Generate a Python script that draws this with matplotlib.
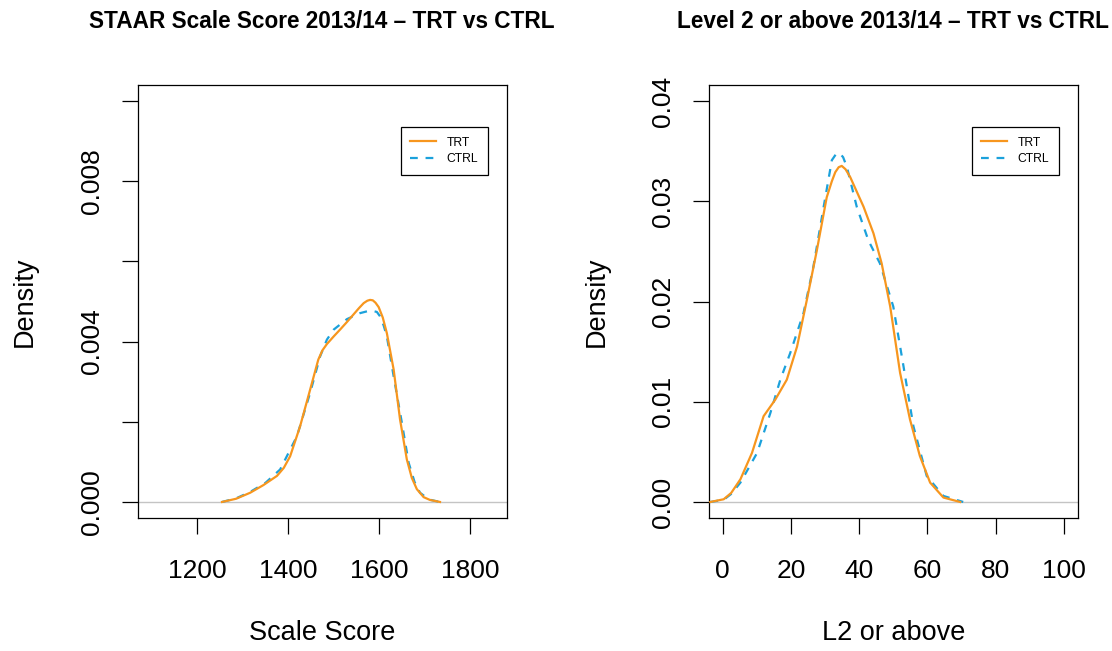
import matplotlib
matplotlib.use("Agg")
import matplotlib.pyplot as plt

plt.rcParams['font.family'] = ['Liberation Sans', 'DejaVu Sans']

TRT_COLOR = "#F7961E"
CTRL_COLOR = "#1BA1DB"

# left panel: STAAR scale score densities
score_trt_x = [1254, 1285, 1316, 1345, 1375, 1390, 1404, 1426, 1448, 1466, 1475,
               1485, 1500, 1514, 1530, 1543, 1556, 1566, 1574, 1580, 1586, 1592,
               1599, 1608, 1617, 1632, 1646, 1661, 1672, 1683, 1698, 1712, 1734]
score_trt_y = [0.0, 0.00008, 0.00023, 0.00042, 0.00065, 0.00085, 0.00114,
               0.00189, 0.0028, 0.00355, 0.00378, 0.00394, 0.00413, 0.0043,
               0.00450, 0.00467, 0.00484, 0.00496, 0.00502, 0.00504, 0.00503,
               0.00497, 0.00486, 0.00460, 0.00421, 0.0033, 0.00206, 0.00106,
               0.00060, 0.00032, 0.00012, 0.00005, 0.0]
score_ctrl_x = [1254, 1285, 1316, 1350, 1382, 1419, 1448, 1470, 1485, 1500, 1529,
                1558, 1575, 1584, 1595, 1602, 1610, 1617, 1632, 1650, 1665, 1678,
                1690, 1710, 1734]
score_ctrl_y = [0.0, 0.00009, 0.00025, 0.00048, 0.00081, 0.00164, 0.00272,
                0.00363, 0.00405, 0.0043, 0.00456, 0.00471, 0.00476, 0.00477,
                0.00474, 0.00463, 0.00440, 0.00413, 0.00313, 0.00198, 0.00098,
                0.00050, 0.00023, 0.00006, 0.0]

# right panel: percent at level 2 or above
l2_trt_x = [-3.6, 0.3, 2.5, 5.2, 8.6, 12.0, 15.4, 18.8, 21.8, 24.7, 27.6, 30.5,
            32.0, 33.0, 34.0, 34.9, 36.0, 37.4, 41.3, 44.2, 46.6, 49.1, 52.0,
            54.9, 57.8, 60.8, 64.7, 69.6]
l2_trt_y = [0.0, 0.00027, 0.0009, 0.00226, 0.0049, 0.00856, 0.0102, 0.0122,
            0.0155, 0.0202, 0.0251, 0.0304, 0.0320, 0.0329, 0.0334, 0.03353,
            0.0332, 0.0324, 0.02945, 0.0268, 0.0238, 0.0195, 0.01288, 0.00823,
            0.00458, 0.00193, 0.00044, 0.0]
l2_ctrl_x = [-3.6, 0.3, 2.5, 5.2, 10.1, 14.0, 16.9, 19.8, 23.7, 26.6, 29.6, 32.0,
             33.2, 34.2, 35.3, 36.4, 39.3, 42.7, 46.1, 50.0, 53.0, 55.9, 59.8,
             64.7, 70.5]
l2_ctrl_y = [0.0, 0.00022, 0.0008, 0.00193, 0.0049, 0.0089, 0.0122, 0.01486,
             0.01885, 0.0235, 0.02945, 0.0341, 0.0347, 0.03483, 0.0344, 0.03343,
             0.02945, 0.0261, 0.0238, 0.0195, 0.01353, 0.00756, 0.00259, 0.0006,
             0.0]

titles = ["STAAR Scale Score 2013/14 \u2013 TRT vs CTRL",
          "Level 2 or above 2013/14 \u2013 TRT vs CTRL"]
xlabels = ["Scale Score", "L2 or above"]
series_names = ["TRT", "CTRL"]

left_xticks = [1200, 1400, 1600, 1800]
left_yticks = [0.0, 0.002, 0.004, 0.006, 0.008, 0.010]
left_ylabels = ["0.000", "", "0.004", "", "0.008", ""]
right_xticks = [0, 20, 40, 60, 80, 100]
right_yticks = [0.0, 0.01, 0.02, 0.03, 0.04]
right_ylabels = ["0.00", "0.01", "0.02", "0.03", "0.04"]

fig = plt.figure(figsize=(11.12, 6.51), dpi=100)
ax1 = fig.add_axes([0.1237, 0.2043, 0.3320, 0.6651])
ax2 = fig.add_axes([0.6376, 0.2043, 0.3314, 0.6651])

panels = [
    (ax1, score_trt_x, score_trt_y, score_ctrl_x, score_ctrl_y,
     (1068, 1881), (-0.0004, 0.0104), left_xticks, left_yticks, left_ylabels),
    (ax2, l2_trt_x, l2_trt_y, l2_ctrl_x, l2_ctrl_y,
     (-4, 104), (-0.0016, 0.0416), right_xticks, right_yticks, right_ylabels),
]

for i, (ax, tx, ty, cx, cy, xl, yl, xt, yt, ylab) in enumerate(panels):
    ax.axhline(0, color="#C4C4C4", lw=1.0, zorder=1)
    ax.plot(tx, ty, color=TRT_COLOR, lw=1.6, label=series_names[0], zorder=3)
    ax.plot(cx, cy, color=CTRL_COLOR, lw=1.6, ls=(0, (3.5, 3.5)),
            label=series_names[1], zorder=2)
    ax.set_xlim(*xl)
    ax.set_ylim(*yl)
    ax.set_xticks(xt)
    ax.set_xticklabels([str(v) for v in xt])
    ax.set_yticks(yt)
    ax.set_yticklabels(ylab, rotation=90, va="center")
    ax.tick_params(length=11.5, width=0.9, labelsize=19, colors="black")
    ax.tick_params(axis="x", pad=18)
    ax.tick_params(axis="y", pad=13)
    for sp in ax.spines.values():
        sp.set_linewidth(0.9)
    ax.set_xlabel(xlabels[i], fontsize=19.5, labelpad=27)
    ax.set_ylabel("Density", fontsize=19.5, labelpad=30)
    leg = ax.legend(loc="upper right", bbox_to_anchor=(0.949, 0.903),
                    borderaxespad=0, fontsize=8.7, frameon=True, fancybox=False,
                    framealpha=1, edgecolor="black", handlelength=2.1,
                    borderpad=0.8, labelspacing=0.36, handletextpad=0.9)
    leg.get_frame().set_linewidth(0.9)
    pos = ax.get_position()
    fig.text((pos.x0 + pos.x1) / 2, 1 - 27.5 / 651, titles[i], ha="center",
             va="baseline", fontsize=16.3, fontweight="bold")

fig.savefig("out.png", dpi=100)
